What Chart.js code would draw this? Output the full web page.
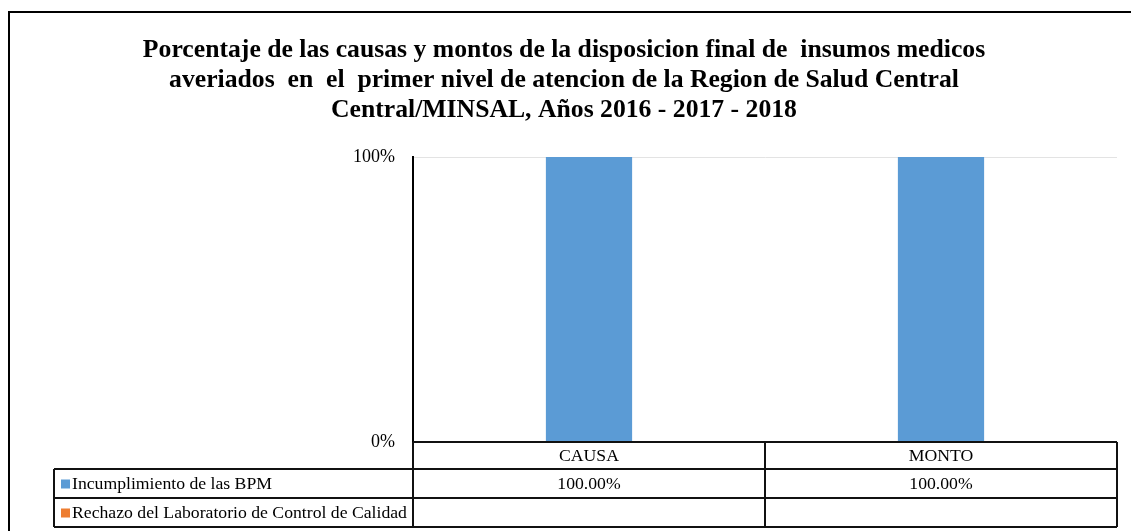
<!DOCTYPE html>
<html>
<head>
<meta charset="utf-8">
<script src="https://cdn.jsdelivr.net/npm/chart.js@4.4.1/dist/chart.umd.min.js"></script>
<style>
  html, body { margin: 0; padding: 0; background: #ffffff; }
  #wrap { width: 1131px; height: 531px; position: relative; }
</style>
</head>
<body>
<div id="wrap"><canvas id="c" width="1131" height="531"></canvas></div>
<script>
const titleLines = [
  'Porcentaje de las causas y montos de la disposicion final de  insumos medicos',
  'averiados  en  el  primer nivel de atencion de la Region de Salud Central',
  'Central/MINSAL, Años 2016 - 2017 - 2018'
];
const categories = ['CAUSA', 'MONTO'];
const seriesNames = ['Incumplimiento de las BPM', 'Rechazo del Laboratorio de Control de Calidad'];
const incumplimiento = [100, 100];
const rechazo = [null, null];
const yTicks = [0, 100];
const seriesColors = ['#5B9BD5', '#ED7D31'];

const SERIF = '"Liberation Serif", "Times New Roman", serif';

const frameAndTable = {
  id: 'frameAndTable',
  beforeDraw(chart) {
    const ctx = chart.ctx;
    ctx.save();
    ctx.fillStyle = '#ffffff';
    ctx.fillRect(0, 0, chart.width, chart.height);
    ctx.strokeStyle = '#000000';
    ctx.lineWidth = 2;
    ctx.strokeRect(9, 12, chart.width + 20, chart.height + 20);
    // title
    ctx.fillStyle = '#000000';
    ctx.font = 'bold 25.7px ' + SERIF;
    ctx.textAlign = 'center';
    ctx.textBaseline = 'alphabetic';
    titleLines.forEach((t, i) => ctx.fillText(t, 564, 57 + i * 30));
    ctx.restore();
  },
  afterDraw(chart) {
    const ctx = chart.ctx;
    const xs = chart.scales.x;
    const area = chart.chartArea;
    const left = area.left, right = area.right;
    const tableLeft = 54;
    const rows = [area.bottom, area.bottom + 27, area.bottom + 56, area.bottom + 85];
    const half = (xs.getPixelForValue(1) - xs.getPixelForValue(0)) / 2;
    const bounds = [left];
    categories.forEach((c, i) => bounds.push(xs.getPixelForValue(i) + half));
    bounds[bounds.length - 1] = right;
    ctx.save();
    ctx.strokeStyle = '#111111';
    ctx.lineWidth = 2;
    ctx.beginPath();
    ctx.moveTo(left, rows[0]); ctx.lineTo(right, rows[0]);
    for (let r = 1; r < rows.length; r++) {
      ctx.moveTo(tableLeft, rows[r]); ctx.lineTo(right, rows[r]);
    }
    ctx.moveTo(tableLeft, rows[1]); ctx.lineTo(tableLeft, rows[3]);
    bounds.forEach(b => { ctx.moveTo(b, rows[0]); ctx.lineTo(b, rows[3]); });
    ctx.stroke();

    ctx.fillStyle = '#000000';
    ctx.font = '17.7px ' + SERIF;
    ctx.textBaseline = 'middle';
    ctx.textAlign = 'center';
    categories.forEach((c, i) => {
      ctx.fillText(c, xs.getPixelForValue(i), (rows[0] + rows[1]) / 2 + 1);
    });
    const seriesData = [incumplimiento, rechazo];
    seriesNames.forEach((name, s) => {
      const cy = (rows[s + 1] + rows[s + 2]) / 2 + 1;
      ctx.fillStyle = seriesColors[s];
      ctx.fillRect(61, cy - 5, 9, 9);
      ctx.fillStyle = '#000000';
      ctx.textAlign = 'left';
      ctx.fillText(name, 72, cy);
      ctx.textAlign = 'center';
      seriesData[s].forEach((v, i) => {
        if (v !== null && v !== undefined) {
          ctx.fillText(v.toFixed(2) + '%', xs.getPixelForValue(i), cy);
        }
      });
    });
    ctx.restore();
  }
};

new Chart(document.getElementById('c'), {
  type: 'bar',
  data: {
    labels: categories,
    datasets: [
      { label: seriesNames[0], data: incumplimiento, backgroundColor: seriesColors[0],
        categoryPercentage: 1, barPercentage: 0.245 },
      { label: seriesNames[1], data: rechazo, backgroundColor: seriesColors[1],
        categoryPercentage: 1, barPercentage: 0.245 }
    ]
  },
  options: {
    responsive: false,
    animation: false,
    layout: { padding: { top: 157, right: 14, bottom: 89, left: 0 } },
    plugins: { legend: { display: false }, title: { display: false }, tooltip: { enabled: false } },
    scales: {
      x: {
        stacked: true,
        ticks: { display: false },
        grid: { display: false, drawTicks: false },
        border: { display: false },
        afterFit(scale) { scale.height = 0; }
      },
      y: {
        stacked: true,
        min: 0,
        max: 100,
        afterBuildTicks(scale) { scale.ticks = yTicks.map(v => ({ value: v })); },
        afterFit(scale) { scale.width = 413; },
        ticks: {
          callback: v => v + '%',
          color: '#000000',
          padding: 18,
          font: { family: SERIF, size: 18 }
        },
        grid: {
          drawTicks: false,
          color: ctx => (ctx.tick && ctx.tick.value === 100) ? '#e3e3e3' : 'rgba(0,0,0,0)',
          lineWidth: 1
        },
        border: { display: true, color: '#000000', width: 2 }
      }
    }
  },
  plugins: [frameAndTable]
});
</script>
</body>
</html>
